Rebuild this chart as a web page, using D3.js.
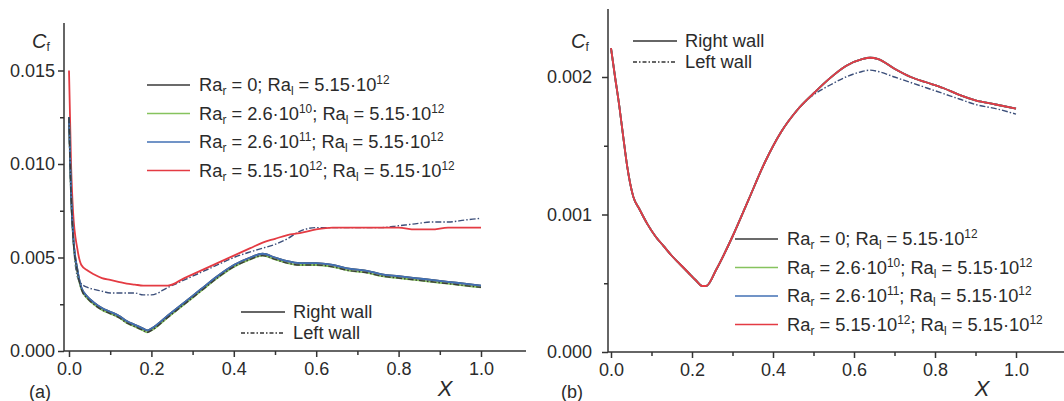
<!DOCTYPE html>
<html>
<head>
<meta charset="utf-8">
<script src="https://cdn.jsdelivr.net/npm/d3@7"></script>
<style>
  body { margin: 0; background: #fff; }
  svg { display: block; font-family: "Liberation Sans", Arial, sans-serif; }
  text { fill: #2b2b2b; }
</style>
</head>
<body>
<svg id="chart" width="1064" height="401"></svg>
<script>
// ---- data ----
// panel (a)
const leftX = [0, 0.005, 0.01, 0.02, 0.03, 0.045, 0.06, 0.08, 0.1, 0.12, 0.14, 0.16, 0.18, 0.19, 0.2,
  0.24, 0.28, 0.32, 0.36, 0.4, 0.44, 0.47, 0.5, 0.53, 0.56, 0.6, 0.64, 0.68, 0.72, 0.76, 0.8, 0.84,
  0.88, 0.92, 0.96, 1.0]
const leftRedRight = [0.0150, 0.0100, 0.0074, 0.0055, 0.0046, 0.0043, 0.0041, 0.0039, 0.0038, 0.0037,
  0.0036, 0.00355, 0.0035, 0.0035, 0.0035, 0.0035, 0.0039, 0.0043, 0.0047, 0.0051, 0.0055, 0.0058,
  0.0060, 0.0062, 0.0063, 0.0065, 0.0066, 0.0066, 0.0066, 0.0066, 0.0066, 0.0065, 0.0065, 0.0066,
  0.0066, 0.0066]
const leftRedLeft = [0.0120, 0.0080, 0.0060, 0.0040, 0.0036, 0.0034, 0.0033, 0.0032, 0.0031, 0.0031,
  0.0031, 0.0031, 0.0030, 0.0030, 0.0030, 0.0034, 0.0038, 0.0042, 0.0046, 0.0050, 0.0053, 0.0055,
  0.0057, 0.0060, 0.0064, 0.0066, 0.0066, 0.0066, 0.0066, 0.0066, 0.0067, 0.0068, 0.0069, 0.0069,
  0.0070, 0.0071]
const leftLowRight = [0.0125, 0.0085, 0.0062, 0.0044, 0.0034, 0.0029, 0.0026, 0.0023, 0.0021, 0.0019,
  0.0016, 0.0014, 0.0012, 0.0011, 0.0012, 0.0019, 0.0026, 0.0033, 0.0040, 0.0046, 0.0050, 0.0052,
  0.0050, 0.0048, 0.0047, 0.0047, 0.0046, 0.0044, 0.0043, 0.0041, 0.0040, 0.0039, 0.0038, 0.0037,
  0.0036, 0.0035]
const leftLowLeft = [0.0125, 0.0084, 0.0061, 0.0043, 0.0033, 0.0028, 0.0025, 0.0022, 0.0020, 0.0018,
  0.0015, 0.0013, 0.0011, 0.0010, 0.0011, 0.0018, 0.0025, 0.0032, 0.0039, 0.0045, 0.0049, 0.0051,
  0.0049, 0.0047, 0.0046, 0.0046, 0.0045, 0.0043, 0.0042, 0.0040, 0.0039, 0.0038, 0.0037, 0.0036,
  0.0035, 0.0034]

// panel (b)
const rightX = [0, 0.01, 0.02, 0.03, 0.04, 0.055, 0.07, 0.09, 0.11, 0.13, 0.15, 0.17, 0.19, 0.21, 0.225,
  0.235, 0.26, 0.3, 0.34, 0.38, 0.42, 0.46, 0.5, 0.54, 0.58, 0.62, 0.64, 0.66, 0.7, 0.74, 0.78, 0.82,
  0.86, 0.9, 0.95, 1.0]
const rightRight = [0.00221, 0.00200, 0.00180, 0.00157, 0.00135, 0.00113, 0.00104, 0.00093, 0.00084,
  0.00077, 0.00070, 0.00064, 0.00058, 0.00052, 0.00048, 0.00048, 0.00060, 0.00084, 0.00111, 0.00138,
  0.00160, 0.00176, 0.00188, 0.00199, 0.00208, 0.00213, 0.00214, 0.00213, 0.00206, 0.00200, 0.00196,
  0.00192, 0.00187, 0.00183, 0.00180, 0.00177]
const rightLeft = [0.00221, 0.00200, 0.00180, 0.00157, 0.00135, 0.00113, 0.00104, 0.00093, 0.00084,
  0.00077, 0.00070, 0.00064, 0.00058, 0.00052, 0.00048, 0.00048, 0.00060, 0.00084, 0.00111, 0.00138,
  0.00160, 0.00176, 0.00187, 0.00194, 0.00200, 0.00204, 0.00205, 0.00204, 0.00200, 0.00196, 0.00192,
  0.00188, 0.00184, 0.00180, 0.00177, 0.00173]

// ticks
const xTicks = [0, 0.2, 0.4, 0.6, 0.8, 1.0]
const xMinor = [0.1, 0.3, 0.5, 0.7, 0.9]
const leftYTicks = [0, 0.005, 0.010, 0.015]
const leftYMinor = [0.0025, 0.0075, 0.0125]
const rightYTicks = [0, 0.001, 0.002]
const rightYMinor = [0.0005, 0.0015]

// legend
const caseNames = ['black', 'green', 'blue', 'red']
const caseLabels = [
  [['Ra'], ['r', 'sub'], [' = 0; Ra'], ['l', 'sub'], [' = 5.15·10'], ['12', 'sup']],
  [['Ra'], ['r', 'sub'], [' = 2.6·10'], ['10', 'sup'], ['; Ra'], ['l', 'sub'], [' = 5.15·10'], ['12', 'sup']],
  [['Ra'], ['r', 'sub'], [' = 2.6·10'], ['11', 'sup'], ['; Ra'], ['l', 'sub'], [' = 5.15·10'], ['12', 'sup']],
  [['Ra'], ['r', 'sub'], [' = 5.15·10'], ['12', 'sup'], ['; Ra'], ['l', 'sub'], [' = 5.15·10'], ['12', 'sup']]
]
const wallLabels = ['Right wall', 'Left wall']

const colors = { black: '#3a3a3a', green: '#86c35e', blue: '#4270b4', red: '#e43b43', dash: '#3c4f7a' }
const dashDot = '6,2,1.5,2'

const svg = d3.select('#chart')

// rich text with sub/superscripts
const richText = (sel, parts) => {
  let shift = 0
  parts.forEach(([t, kind]) => {
    const ts = sel.append('tspan').text(t)
    let target = 0
    if (kind === 'sub') { target = 4; ts.attr('font-size', '0.65em') }
    if (kind === 'sup') { target = -7; ts.attr('font-size', '0.65em') }
    if (target !== shift) ts.attr('dy', target - shift)
    shift = target
  })
}

const drawPanel = p => {
  const g = svg.append('g')
  const x = d3.scaleLinear().domain([0, 1]).range(p.xRange)
  const y = d3.scaleLinear().domain(p.yDomain).range(p.yRange)

  // axes
  const xAxis = g.append('g')
    .attr('transform', `translate(0,${p.yRange[0]})`)
    .call(d3.axisBottom(x).tickValues(xTicks).tickSize(6).tickPadding(5)
      .tickFormat(d3.format('.1f')))
  xAxis.select('.domain').attr('d', `M${p.axisX0},0H${p.axisX1}`)
  g.append('g')
    .attr('transform', `translate(0,${p.yRange[0]})`)
    .call(d3.axisBottom(x).tickValues(xMinor).tickSize(4).tickFormat(''))
    .select('.domain').remove()

  const yAxis = g.append('g')
    .attr('transform', `translate(${p.axisX0},0)`)
    .call(d3.axisLeft(y).tickValues(p.yTicks).tickSize(6).tickPadding(p.yPad)
      .tickFormat(d3.format('.3f')))
  yAxis.select('.domain').attr('d', `M0,${p.yRange[0]}V${p.axisYTop}`)
  g.append('g')
    .attr('transform', `translate(${p.axisX0},0)`)
    .call(d3.axisLeft(y).tickValues(p.yMinor).tickSize(4).tickFormat(''))
    .select('.domain').remove()

  g.selectAll('.domain, .tick line').attr('stroke', '#333').attr('stroke-width', 1.5)
  g.selectAll('.tick text').attr('font-size', 18).attr('fill', '#2b2b2b')
    .attr('font-family', '"Liberation Sans", Arial, sans-serif')

  // curves
  const line = d3.line().curve(d3.curveMonotoneX).x(d => x(d[0])).y(d => y(d[1]))
  p.curves.forEach(c => {
    g.append('path')
      .datum(p.xs.map((v, i) => [v, c.values[i]]))
      .attr('d', line)
      .attr('fill', 'none')
      .attr('stroke', colors[c.color])
      .attr('stroke-width', c.dash ? 1.4 : 1.8)
      .attr('stroke-dasharray', c.dash ? dashDot : null)
      .attr('stroke-linejoin', 'round')
  })

  // labels
  const cf = g.append('text').attr('x', p.cfX).attr('y', 48).attr('font-size', 20)
  cf.append('tspan').attr('font-style', 'italic').text('C')
  cf.append('tspan').attr('font-size', 12).attr('dy', 3).text('f')
  g.append('text').attr('x', p.xLabelX).attr('y', 396).attr('font-size', 22)
    .attr('font-style', 'italic').attr('text-anchor', 'middle').text('X')
  g.append('text').attr('x', p.tagX).attr('y', 398).attr('font-size', 18)
    .attr('text-anchor', 'middle').text(p.tag)

  // case legend
  caseNames.forEach((name, i) => {
    const yy = p.caseLeg.y + i * 28.5
    g.append('line').attr('x1', p.caseLeg.x).attr('x2', p.caseLeg.x + 43)
      .attr('y1', yy).attr('y2', yy).attr('stroke', colors[name]).attr('stroke-width', 1.6)
    const t = g.append('text').attr('x', p.caseLeg.x + 52).attr('y', yy + 6).attr('font-size', 18.3)
    richText(t, caseLabels[i])
  })

  // wall legend
  wallLabels.forEach((label, i) => {
    const yy = p.wallLeg.y + i * 21
    g.append('line').attr('x1', p.wallLeg.x).attr('x2', p.wallLeg.x + 44)
      .attr('y1', yy).attr('y2', yy).attr('stroke', '#333').attr('stroke-width', 1.4)
      .attr('stroke-dasharray', i === 1 ? '4,2,1.5,2' : null)
    g.append('text').attr('x', p.wallLeg.x + 52).attr('y', yy + 6).attr('font-size', 18.3).text(label)
  })
}

drawPanel({
  xs: leftX,
  xRange: [69, 481], axisX0: 64, axisX1: 526,
  yDomain: [0, 0.015], yRange: [351, 70.5], axisYTop: 23,
  yTicks: leftYTicks, yMinor: leftYMinor, yPad: 3,
  cfX: 32, xLabelX: 445, tagX: 40, tag: '(a)',
  caseLeg: { x: 147, y: 85 }, wallLeg: { x: 241, y: 312 },
  curves: [
    { values: leftRedLeft, color: 'dash', dash: true },
    { values: leftRedRight, color: 'red' },
    { values: leftLowLeft, color: 'green' },
    { values: leftLowRight, color: 'black' },
    { values: leftLowRight, color: 'blue' },
    { values: leftLowLeft, color: 'black', dash: true }
  ]
})

drawPanel({
  xs: rightX,
  xRange: [611, 1016], axisX0: 608, axisX1: 1064,
  yDomain: [0, 0.002], yRange: [352, 77], axisYTop: 9,
  yTicks: rightYTicks, yMinor: rightYMinor, yPad: 10,
  cfX: 571, xLabelX: 982, tagX: 572, tag: '(b)',
  caseLeg: { x: 735, y: 239 }, wallLeg: { x: 633, y: 41 },
  curves: [
    { values: rightLeft, color: 'dash', dash: true },
    { values: rightRight, color: 'black' },
    { values: rightRight, color: 'green' },
    { values: rightRight, color: 'blue' },
    { values: rightRight, color: 'red' }
  ]
})
</script>
</body>
</html>
